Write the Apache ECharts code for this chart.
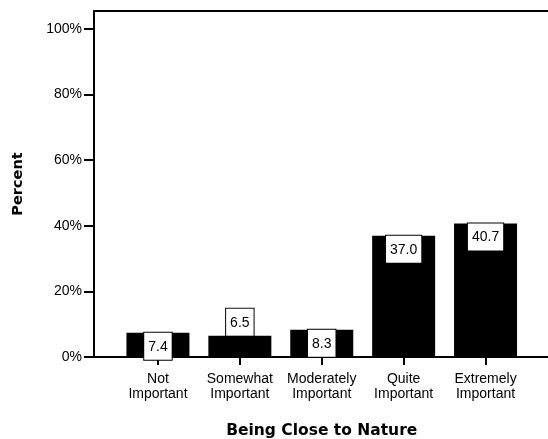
<!DOCTYPE html>
<html>
<head>
<meta charset="utf-8">
<style>html,body{margin:0;padding:0;background:#fff;}#c{width:548px;height:439px;}</style>
<script src="https://cdn.jsdelivr.net/npm/echarts@6/dist/echarts.min.js"></script>
</head>
<body>
<div id="c"></div>
<script>
const categories = ['Not\nImportant', 'Somewhat\nImportant', 'Moderately\nImportant', 'Quite\nImportant', 'Extremely\nImportant'];
const percents = [7.4, 6.5, 8.3, 37.0, 40.7];
const yTicks = [0, 20, 40, 60, 80, 100];
const xTitle = 'Being Close to Nature';
const yTitle = 'Percent';

const FONT = 'Liberation Sans, Arial, sans-serif';
const TFONT = 'DejaVu Sans, sans-serif';
const YMAX = 105.5;
const chart = echarts.init(document.getElementById('c'), null, {renderer: 'canvas'});
const line = {show: true, lineStyle: {color: '#000', width: 2}};
chart.setOption({
  animation: false,
  backgroundColor: '#fff',
  textStyle: {fontFamily: FONT},
  grid: [
    {left: 94, right: 0, top: 11, bottom: 82, containLabel: false, outerBoundsMode: 'none'},
    {left: 117, right: 21.5, top: 11, bottom: 82, containLabel: false, outerBoundsMode: 'none'}
  ],
  xAxis: [
    {gridIndex: 0, type: 'value', min: 0, max: 1, position: 'bottom', axisLine: line,
     axisTick: {show: false}, axisLabel: {show: false}, splitLine: {show: false}},
    {gridIndex: 0, type: 'value', min: 0, max: 1, position: 'top', axisLine: line,
     axisTick: {show: false}, axisLabel: {show: false}, splitLine: {show: false}},
    {gridIndex: 1, type: 'category', data: categories, position: 'bottom',
     axisLine: {show: false},
     axisTick: {show: true, alignWithLabel: true, length: 8, lineStyle: {color: '#000', width: 2}},
     axisLabel: {color: '#000', fontSize: 14, lineHeight: 15, margin: 15, fontFamily: FONT, interval: 0},
     name: xTitle, nameLocation: 'middle', nameGap: 66,
     nameTextStyle: {color: '#000', fontSize: 15.5, fontWeight: 'bold', fontFamily: TFONT}}
  ],
  yAxis: [
    {gridIndex: 0, type: 'value', min: 0, max: YMAX, axisLine: line,
     axisTick: {show: true, length: 10, customValues: yTicks, lineStyle: {color: '#000', width: 2}},
     axisLabel: {color: '#000', fontSize: 14, margin: 12, fontFamily: FONT, customValues: yTicks,
                 formatter: v => v + '%'},
     splitLine: {show: false},
     name: yTitle, nameLocation: 'middle', nameGap: 68, nameRotate: 90,
     nameTextStyle: {color: '#000', fontSize: 14.5, fontWeight: 'bold', fontFamily: TFONT}},
    {gridIndex: 1, type: 'value', min: 0, max: YMAX, show: false}
  ],
  series: [{
    type: 'bar', xAxisIndex: 2, yAxisIndex: 1, barWidth: 63,
    itemStyle: {color: '#000'},
    data: percents.map((v, i) => ({
      value: v,
      label: {position: i === 1 ? 'top' : 'insideTop'}
    })),
    label: {
      show: true, distance: 0, color: '#000', fontSize: 14, fontFamily: FONT,
      backgroundColor: '#fff', borderColor: '#000', borderWidth: 1, padding: [7, 4, 6, 4],
      formatter: p => p.value.toFixed(1)
    }
  }]
});
</script>
</body>
</html>
